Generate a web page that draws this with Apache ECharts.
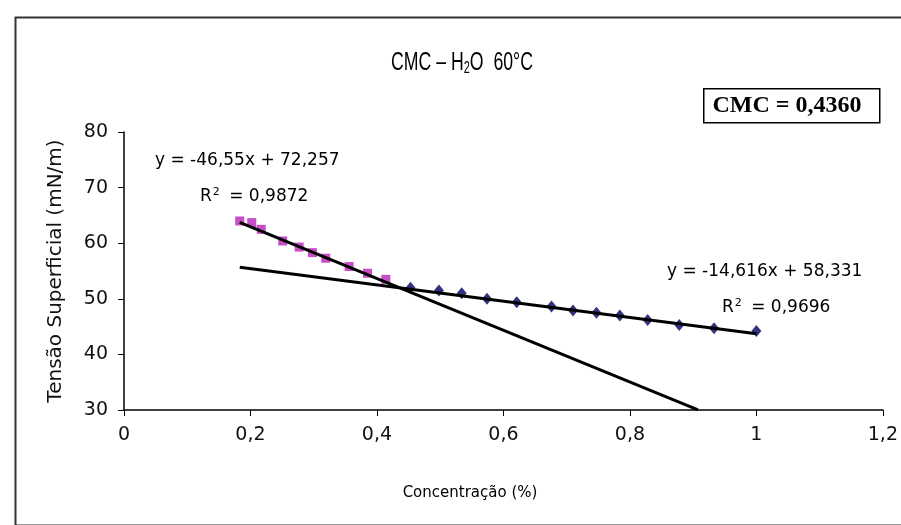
<!DOCTYPE html>
<html>
<head>
<meta charset="utf-8">
<script src="https://cdn.jsdelivr.net/npm/echarts@6/dist/echarts.min.js"></script>
<style>
  html, body { margin: 0; padding: 0; background: #fff; }
  #chart { width: 901px; height: 525px; }
</style>
</head>
<body>
<div id="chart"></div>
<script>
// pontos medidos (concentração %, tensão mN/m)
const preX = [0.183, 0.202, 0.217, 0.251, 0.277, 0.298, 0.319, 0.356, 0.385, 0.414];
const preY = [64.0, 63.7, 62.5, 60.4, 59.3, 58.3, 57.3, 55.8, 54.6, 53.5];
const postX = [0.453, 0.498, 0.534, 0.574, 0.621, 0.676, 0.710, 0.747, 0.784, 0.828, 0.878, 0.933, 1.0];
const postY = [52.0, 51.5, 51.0, 50.0, 49.4, 48.6, 47.9, 47.5, 47.0, 46.2, 45.3, 44.7, 44.2];

// linhas de tendência: [inclinação, intercepto], faixa em x
const preFit = [-46.55, 72.257];
const preFitRange = [0.183, 0.9077];
const postFit = [-14.616, 58.331];
const postFitRange = [0.183, 1.0];

const xTicks = [0, 0.2, 0.4, 0.6, 0.8, 1, 1.2];
const yTicks = [30, 40, 50, 60, 70, 80];

const zip = (xs, ys) => xs.map((x, i) => [x, ys[i]]);
const fitLine = (fit, range) => range.map(x => [x, fit[0] * x + fit[1]]);
const comma = v => String(v).replace('.', ',');

const sans = '"DejaVu Sans", sans-serif';
const eqStyle = (text, x, y) => ({
  type: 'text', x: x, y: y,
  style: {
    text: text,
    fontFamily: 'DejaVu Sans', fontSize: 17, fill: '#000',
    verticalAlign: 'middle',
    rich: { sup: { fontFamily: 'DejaVu Sans', fontSize: 11, padding: [0, 4, 9, 1] } }
  }
});

const chart = echarts.init(document.getElementById('chart'));
chart.setOption({
  animation: false,
  backgroundColor: '#fff',
  textStyle: { fontFamily: sans },
  grid: { left: 124, right: 15, top: 132, bottom: 115 },
  xAxis: {
    type: 'value',
    min: xTicks[0], max: xTicks[xTicks.length - 1], interval: 0.2,
    axisLine: { lineStyle: { color: '#000', width: 1.5 } },
    axisTick: { length: 6, lineStyle: { color: '#000' } },
    axisLabel: { fontSize: 19, color: '#111', margin: 16, formatter: comma },
    splitLine: { show: false }
  },
  yAxis: {
    type: 'value',
    min: yTicks[0], max: yTicks[yTicks.length - 1], interval: 10,
    name: 'Tensão Superficial (mN/m)',
    nameLocation: 'middle',
    nameGap: 58,
    nameTextStyle: { fontSize: 20, color: '#111' },
    axisLine: { show: true, lineStyle: { color: '#000', width: 1.5 } },
    axisTick: { show: true, length: 6, lineStyle: { color: '#000' } },
    axisLabel: { fontSize: 19, color: '#111', margin: 16 },
    splitLine: { show: false }
  },
  series: [
    {
      type: 'scatter',
      data: zip(preX, preY),
      symbol: 'rect',
      symbolSize: 9,
      itemStyle: { color: '#b822b8' }
    },
    {
      type: 'scatter',
      data: zip(postX, postY),
      symbol: 'diamond',
      symbolSize: [10, 12],
      itemStyle: { color: '#000060' }
    },
    {
      type: 'line',
      data: fitLine(preFit, preFitRange),
      symbol: 'none',
      z: 5,
      lineStyle: { color: '#000', width: 3 }
    },
    {
      type: 'line',
      data: fitLine(postFit, postFitRange),
      symbol: 'none',
      z: 5,
      lineStyle: { color: '#000', width: 3 }
    }
  ],
  graphic: [
    {
      type: 'rect', left: 13, top: 15, z: -1,
      shape: { width: 900, height: 508 },
      style: { fill: null, stroke: '#333', lineWidth: 2 }
    },
    {
      type: 'text', x: 462, y: 63, scaleX: 0.68,
      style: {
        text: 'CMC – H{sub|2}O  60°C',
        fontFamily: '"Liberation Sans", sans-serif',
        fontSize: 26, fill: '#000',
        align: 'center', verticalAlign: 'middle',
        rich: { sub: { fontSize: 16, padding: [11, 0, 0, 0] } }
      }
    },
    {
      type: 'rect', left: 703, top: 88,
      shape: { width: 176, height: 34 },
      style: { fill: '#fff', stroke: '#000', lineWidth: 1.5 }
    },
    {
      type: 'text', x: 787, y: 106,
      style: {
        text: 'CMC = 0,4360', font: 'bold 24px "Liberation Serif", serif', fill: '#000',
        align: 'center', verticalAlign: 'middle'
      }
    },
    eqStyle('y = -46,55x + 72,257', 155, 161),
    eqStyle('R{sup|2} = 0,9872', 200, 197),
    eqStyle('y = -14,616x + 58,331', 667, 272),
    eqStyle('R{sup|2} = 0,9696', 722, 308),
    {
      type: 'text', x: 470, y: 493,
      style: {
        text: 'Concentração (%)', fontFamily: 'DejaVu Sans', fontSize: 15, fill: '#000',
        align: 'center', verticalAlign: 'middle'
      }
    }
  ]
});
</script>
</body>
</html>
